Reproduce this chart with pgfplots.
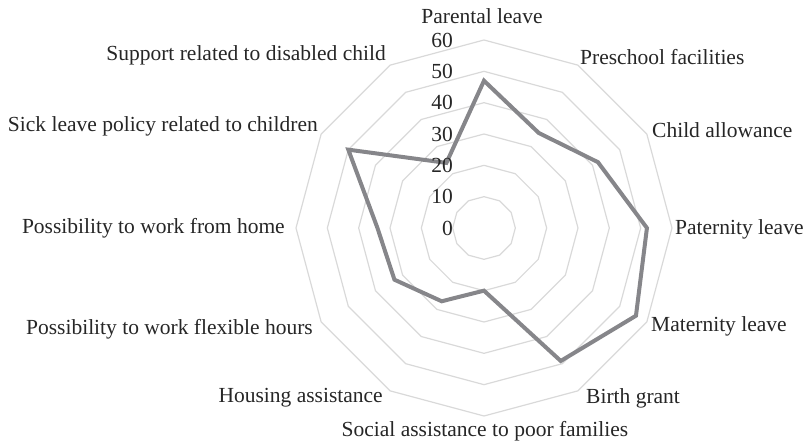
\documentclass[border=0pt]{standalone}
\usepackage{pgfplots}
\pgfplotsset{compat=1.18}
\usepgfplotslibrary{polar}
\usepackage{fontspec}
\setmainfont{Liberation Serif}
\definecolor{ringc}{RGB}{217,217,217}
\definecolor{linec}{RGB}{134,134,138}
\definecolor{txt}{RGB}{38,38,38}
\begin{document}
\begin{tikzpicture}
\begin{polaraxis}[
  scale only axis, width=376pt, height=376pt,
  ymin=0, ymax=60, hide axis, clip=false,
]
\pgfplotsinvokeforeach{10,20,30,40,50,60}{
  \addplot[ringc, line width=1.2pt, line join=miter] coordinates {(90,#1)(60,#1)(30,#1)(0,#1)(-30,#1)(-60,#1)(-90,#1)(-120,#1)(-150,#1)(-180,#1)(-210,#1)(-240,#1)(-270,#1)};
}
\addplot[linec, line width=4pt, line join=miter] coordinates {
  (90,47) (60,35) (30,42) (0,52) (-30,56) (-60,49) (-90,20) (-120,27) (-150,33) (-180,34) (-210,50) (-240,24) (-270,47)
} -- cycle;
\coordinate (c) at (axis cs:0,0);
\end{polaraxis}
\begin{scope}[font=\fontsize{21.5}{25}\selectfont, text=txt, inner sep=0pt]
\node[anchor=center] at ([shift={(-2pt,212pt)}]c) {Parental leave};
\node[anchor=west] at ([shift={(96pt,171pt)}]c) {Preschool facilities};
\node[anchor=west] at ([shift={(168pt,98pt)}]c) {Child allowance};
\node[anchor=west] at ([shift={(191pt,-1pt)}]c) {Paternity leave};
\node[anchor=west] at ([shift={(167pt,-98pt)}]c) {Maternity leave};
\node[anchor=west] at ([shift={(102pt,-170pt)}]c) {Birth grant};
\node[anchor=center] at ([shift={(1pt,-203pt)}]c) {Social assistance to poor families};
\node[anchor=east] at ([shift={(-101pt,-170pt)}]c) {Housing assistance};
\node[anchor=east] at ([shift={(-171pt,-101pt)}]c) {Possibility to work flexible hours};
\node[anchor=east] at ([shift={(-199pt,0pt)}]c) {Possibility to work from home};
\node[anchor=east] at ([shift={(-166pt,102pt)}]c) {Sick leave policy related to children};
\node[anchor=east] at ([shift={(-98pt,173pt)}]c) {Support related to disabled child};
\foreach \v in {0,10,20,30,40,50,60}{
  \node[anchor=east] at ([shift={(-31pt,3.133*\v pt)}]c) {\v};
}
\end{scope}
\pgfresetboundingbox
\useasboundingbox ([shift={(-484pt,-214pt)}]c) rectangle ([shift={(323pt,228pt)}]c);
\end{tikzpicture}
\end{document}
